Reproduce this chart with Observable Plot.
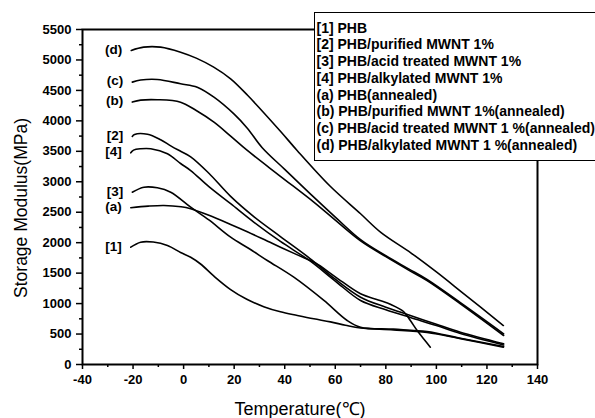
<!DOCTYPE html>
<html><head><meta charset="utf-8">
<script src="https://cdn.jsdelivr.net/npm/d3@7"></script>
<script src="https://cdn.jsdelivr.net/npm/@observablehq/plot@0.6"></script>
<style>
html,body{margin:0;padding:0;background:#fff;overflow:hidden;}
#wrap{position:relative;width:595px;height:418px;overflow:hidden;font-family:Arial,"Liberation Sans",sans-serif;}
#legend{position:absolute;left:314px;top:12px;width:320px;height:140.5px;border:1.5px solid #000;background:#fff;padding-top:6.5px;padding-left:1.5px;box-sizing:content-box;font-weight:bold;font-size:14px;line-height:16.77px;white-space:nowrap;color:#000;}
svg g[aria-label*="tick label"], svg g[aria-label*="tick label"] text{font-weight:bold !important;}
</style></head>
<body><div id="wrap"><div id="chart"></div><div id="legend"></div></div>
<script>
// Series identifiers (as labelled at the curve starts) and legend entries
const seriesIds = ["[1]", "[2]", "[3]", "[4]", "(a)", "(b)", "(c)", "(d)"];
const legendLabels = [
  "[1] PHB",
  "[2] PHB/purified MWNT 1%",
  "[3] PHB/acid treated MWNT 1%",
  "[4] PHB/alkylated MWNT 1%",
  "(a) PHB(annealed)",
  "(b) PHB/purified MWNT 1%(annealed)",
  "(c) PHB/acid treated MWNT 1 %(annealed)",
  "(d) PHB/alkylated MWNT 1 %(annealed)"
];
const xTitle = "Temperature(\u2103)";
const yTitle = "Storage Modulus(MPa)";

// Temperature (°C) and storage modulus (MPa) per series
const temp1 = [-20.9,-17,-12,-6.4,-1.2,2.8,6.7,12,18.6,25,31.7,38.3,45,51.5,58.1,64,70,83,96.3,109.5,126.5];
const mod1  = [1926,2008,2010,1954,1840,1760,1650,1450,1230,1070,950,865,805,750,700,645,598,568,525,425,284];

const temp2 = [-20.3,-19.4,-14.3,-9.1,-5.1,-1.2,2.8,10,18.6,28,38.3,50,60,70,80,89.7,100,109.5,126.6];
const mod2  = [3744,3777,3780,3690,3590,3500,3410,3140,2760,2420,2100,1740,1400,1105,940,805,660,530,340];

const temp3 = [-20.3,-15.7,-10.4,-5.1,2.8,10,18.6,26,33.1,43.6,55.5,64.7,70,83,96.3,109.5,126.6];
const mod3  = [2829,2911,2901,2829,2583,2373,2090,1900,1708,1433,1051,722,612,580,540,430,295];

const temp4 = [-20.9,-19.8,-17,-13,-6.4,-1.2,2.8,10,18.6,28,38.3,50,60,70,80,89.7,100,109.5,126.6];
const mod4  = [3476,3520,3542,3542,3460,3300,3185,2920,2640,2330,2020,1700,1370,1051,900,772,640,509,320];

const tempA = [-20.9,-14,-7.8,-1,2.8,10,18.6,25.2,35,45,52,60,70,77,82,87,89.7,92.4,95,97.6];
const modA  = [2573,2600,2611,2590,2557,2450,2300,2180,1990,1800,1670,1440,1161,1060,985,870,722,558,420,284];

const tempB = [-20.3,-17,-10.4,-1.2,5,12,18.6,25.2,38.3,51.5,60,70,80,89,96.3,109.5,126.6];
const modB  = [4308,4340,4347,4307,4170,3979,3750,3514,3090,2665,2370,2030,1770,1550,1379,997,476];

const tempC = [-20.3,-17,-10.4,-1.2,5.4,12,20,25.2,31.1,40,51.5,60,70,80,89,96.3,109.5,126.6];
const modC  = [4636,4670,4680,4609,4553,4389,4110,3880,3560,3204,2747,2420,2050,1785,1570,1395,1015,504];

const tempD = [-20.7,-15.8,-9.1,-1.2,5,11.9,18.6,25.3,38.3,44.9,57.9,70,78,90,100,110,126.5];
const modD  = [5156,5210,5210,5128,5030,4882,4690,4420,3830,3514,2930,2475,2170,1830,1520,1190,640];

// Axis ticks
const xMajor = [-40,-20,0,20,40,60,80,100,120,140];
const xMinor = [-30,-10,10,30,50,70,90,110,130];
const yMajor = [0,500,1000,1500,2000,2500,3000,3500,4000,4500,5000,5500];
const yMinor = [250,750,1250,1750,2250,2750,3250,3750,4250,4750,5250];

const seriesTemps = [temp1, temp2, temp3, temp4, tempA, tempB, tempC, tempD];
const seriesMods  = [mod1, mod2, mod3, mod4, modA, modB, modC, modD];

const rows = [];
seriesIds.forEach((id, k) => seriesTemps[k].forEach((t, i) => rows.push({id, t, m: seriesMods[k][i]})));
const starts = seriesIds.map((id, k) => ({id, t: seriesTemps[k][0], m: seriesMods[k][0]}));

const font = "Arial, 'Liberation Sans', sans-serif";
const fmt = d => String(d);
const chart = Plot.plot({
  width: 595, height: 418,
  marginLeft: 82, marginRight: 58, marginTop: 29, marginBottom: 54,
  style: {fontFamily: font, background: "#fff", color: "#000", overflow: "visible"},
  x: {domain: [-40, 140], label: null},
  y: {domain: [0, 5500], label: null},
  marks: [
    Plot.axisX({ticks: xMajor, tickFormat: fmt, tickSize: 5, tickPadding: 5, fontSize: 13, fontWeight: "bold", strokeWidth: 1.5, label: null}),
    Plot.axisX({ticks: xMinor, tickSize: 3, text: null, strokeWidth: 1.5, label: null}),
    Plot.axisY({ticks: yMajor, tickFormat: fmt, tickSize: 6, tickPadding: 5, fontSize: 13, fontWeight: "bold", strokeWidth: 1.5, label: null}),
    Plot.axisY({ticks: yMinor, tickSize: 3, text: null, strokeWidth: 1.5, label: null}),
    Plot.line(rows, {x: "t", y: "m", z: "id", stroke: "#000", strokeWidth: 1.6, curve: "catmull-rom"}),
    Plot.text(starts, {x: "t", y: "m", text: "id", dx: -9, dy: -1, textAnchor: "end", fontSize: 13.5, fontWeight: "bold", fill: "#000"}),
    Plot.frame({stroke: "#000", strokeWidth: 2}),
    Plot.text([xTitle], {text: d => d, frameAnchor: "bottom", dy: 45, dx: -10, textAnchor: "middle", lineAnchor: "middle", fontSize: 18, fill: "#000"}),
    Plot.text([yTitle], {text: d => d, frameAnchor: "left", dx: -61, dy: 11, textAnchor: "middle", lineAnchor: "middle", rotate: -90, fontSize: 17.5, fill: "#000"})
  ]
});
document.getElementById("chart").appendChild(chart);

const leg = document.getElementById("legend");
legendLabels.forEach(s => { const d = document.createElement("div"); d.textContent = s; leg.appendChild(d); });
</script>
</body></html>
